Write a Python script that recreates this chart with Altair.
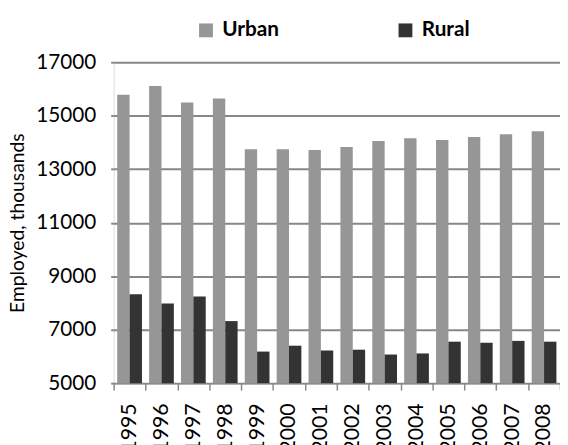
import altair as alt
import pandas as pd

years = [str(y) for y in range(1995, 2009)]
urban = [15780, 16110, 15490, 15640, 13750, 13750, 13720, 13830, 14050, 14160, 14090, 14200, 14310, 14420]
rural = [8320, 7980, 8240, 7320, 6180, 6400, 6220, 6250, 6070, 6110, 6550, 6510, 6580, 6550]
series = ["Urban", "Rural"]
colors = ["#969696", "#333333"]
y_ticks = [5000, 7000, 9000, 11000, 13000, 15000, 17000]

rows = []
for i, yr in enumerate(years):
    rows.append({"year": yr, "series": "Urban", "value": urban[i]})
    rows.append({"year": yr, "series": "Rural", "value": rural[i]})
df = pd.DataFrame(rows)

FONT = "Lato"

chart = alt.Chart(df).mark_bar().encode(
    x=alt.X(
        "year:N", sort=years, title=None,
        scale=alt.Scale(paddingInner=0, paddingOuter=0),
        axis=alt.Axis(
            labelAngle=-90, labelAlign="right", labelBaseline="middle",
            tickBand="extent", tickSize=7, tickColor="#888888", tickWidth=1.5,
            domainColor="#888888", domainWidth=1.5, labelPadding=13,
            labelFont=FONT, labelFontSize=21.5, labelColor="black", grid=False,
        ),
    ),
    xOffset=alt.XOffset("series:N", sort=series,
                        scale=alt.Scale(paddingOuter=0.29, paddingInner=0)),
    y=alt.Y(
        "value:Q",
        scale=alt.Scale(domain=[5000, 17000], zero=False, nice=False),
        axis=alt.Axis(
            values=y_ticks, format="d", title="Employed, thousands", domain=False,
            tickSize=3, tickColor="#888888", tickWidth=2,
            labelFont=FONT, labelFontSize=21, labelColor="black", labelPadding=15,
            titleFont=FONT, titleFontSize=19.5, titleFontWeight="normal",
            titleColor="black", titlePadding=8,
            grid=True, gridColor="#878787", gridWidth=2,
        ),
    ),
    y2=alt.datum(5000),
    color=alt.Color(
        "series:N", sort=series,
        scale=alt.Scale(domain=series, range=colors),
        legend=alt.Legend(
            title=None, orient="none", legendX=83, legendY=-43,
            direction="horizontal", symbolType="square", symbolSize=196,
            symbolStrokeWidth=0, symbolOpacity=1, labelFont=FONT,
            labelFontWeight="bold", labelFontSize=21, labelColor="black",
            labelOffset=6, columnPadding=117,
        ),
    ),
).properties(
    width=452, height=325, autosize="none",
    padding={"left": 107, "top": 52, "right": 0, "bottom": 80},
).configure_view(fill="#e8e8e8", strokeWidth=0).configure(background="white")

chart.save("out.html", embed_options={"renderer": "svg", "actions": False})
